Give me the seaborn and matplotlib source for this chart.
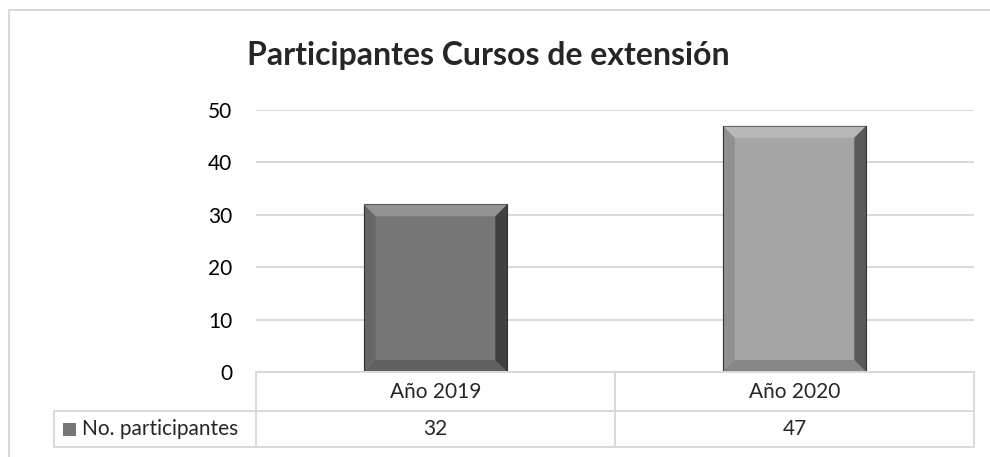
import numpy as np
import pandas as pd
import seaborn as sns
import matplotlib.pyplot as plt
from matplotlib.patches import Rectangle, Polygon

categories = ['Año 2019', 'Año 2020']
participants = [32, 47]
series_name = 'No. participantes'
bar_colors = ['#767676', '#A5A5A5']
title = 'Participantes Cursos de extensión'

sns.set_theme(style='white')
plt.rcParams['font.family'] = ['Lato', 'DejaVu Sans']

df = pd.DataFrame({'cat': categories, 'val': participants})

fig = plt.figure(figsize=(9.9, 4.57), dpi=100)
W, H = 990, 457
# axes placement in pixels
x0, x1, y_top, y_bot = 256, 974, 110, 372
ax = fig.add_axes([x0 / W, 1 - y_bot / H, (x1 - x0) / W, (y_bot - y_top) / H])

sns.barplot(data=df, x='cat', y='val', hue='cat', palette=bar_colors,
            legend=False, width=0.40, ax=ax, zorder=3, edgecolor='#3c3c3c', linewidth=0.8)

ax.set_ylim(0, 50)
ax.set_xlim(-0.5, 1.5)
ax.set_yticks(range(0, 51, 10))
ax.yaxis.grid(True, color='#D9D9D9', linewidth=1.4, zorder=0)
ax.set_xticks([])
ax.set_xlabel('')
ax.set_ylabel('')
for s in ax.spines.values():
    s.set_visible(False)
ax.tick_params(axis='y', length=0, pad=17, labelsize=15, labelcolor='#000000')

# bevel effect on bars, derived from bar geometry
bw_px = 12
dx = bw_px / (x1 - x0) * 2.0
dy = bw_px / (y_bot - y_top) * 50.0
for p in ax.patches:
    bx, by, bw, bh = p.get_x(), p.get_y(), p.get_width(), p.get_height()
    L, R, B, T = bx, bx + bw, by, by + bh
    shades = [
        ([(L, T), (R, T), (R - dx, T - dy), (L + dx, T - dy)], 'white', 0.22),
        ([(R, T), (R, B), (R - dx, B + dy), (R - dx, T - dy)], 'black', 0.45),
        ([(L, T), (L, B), (L + dx, B + dy), (L + dx, T - dy)], 'black', 0.12),
        ([(L, B), (R, B), (R - dx, B + dy), (L + dx, B + dy)], 'black', 0.18),
    ]
    for pts, c, a in shades:
        ax.add_patch(Polygon(pts, closed=True, facecolor=c, alpha=a,
                             edgecolor='none', zorder=4))

# data table below the plot (axes coordinates)
grid_c = '#D9D9D9'
h1 = (411 - y_bot) / (y_bot - y_top)
h2 = (447 - y_bot) / (y_bot - y_top)
lab_x = (54 - x0) / (x1 - x0)
lw = 1.4
kw = dict(transform=ax.transAxes, clip_on=False, color=grid_c, lw=lw, zorder=5)
ax.plot([0, 1], [0, 0], **kw)
ax.plot([lab_x, 1], [-h1, -h1], **kw)
ax.plot([lab_x, 1], [-h2, -h2], **kw)
ax.plot([lab_x, lab_x], [-h1, -h2], **kw)
for xb in [0, 0.5, 1]:
    ax.plot([xb, xb], [0, -h2], **kw)

for i, (c, v) in enumerate(zip(categories, participants)):
    xc = (i + 0.5) / len(categories)
    ax.text(xc, -h1 / 2, c, transform=ax.transAxes, ha='center', va='center', fontsize=15)
    ax.text(xc, -(h1 + h2) / 2, str(v), transform=ax.transAxes, ha='center', va='center', fontsize=15)

sq = 13 / (x1 - x0)
sqh = 13 / (y_bot - y_top)
ymid = -(h1 + h2) / 2
ax.add_patch(Rectangle((lab_x + 9 / (x1 - x0), ymid - sqh / 2), sq, sqh, transform=ax.transAxes,
                       clip_on=False, facecolor='#767676', edgecolor='none'))
ax.text(lab_x + 28 / (x1 - x0), ymid, series_name, transform=ax.transAxes,
        ha='left', va='center', fontsize=15)

fig.text(0.493, 1 - 65 / H, title, ha='center', va='baseline', fontsize=23, fontweight='bold')

# outer chart border (cropped at right and bottom)
fig.patches.append(Rectangle((9 / W, -0.05), 1.1, 1 - 10 / H + 0.05, transform=fig.transFigure,
                             facecolor='none', edgecolor=grid_c, lw=1.5))

fig.savefig('out.png', dpi=100)
